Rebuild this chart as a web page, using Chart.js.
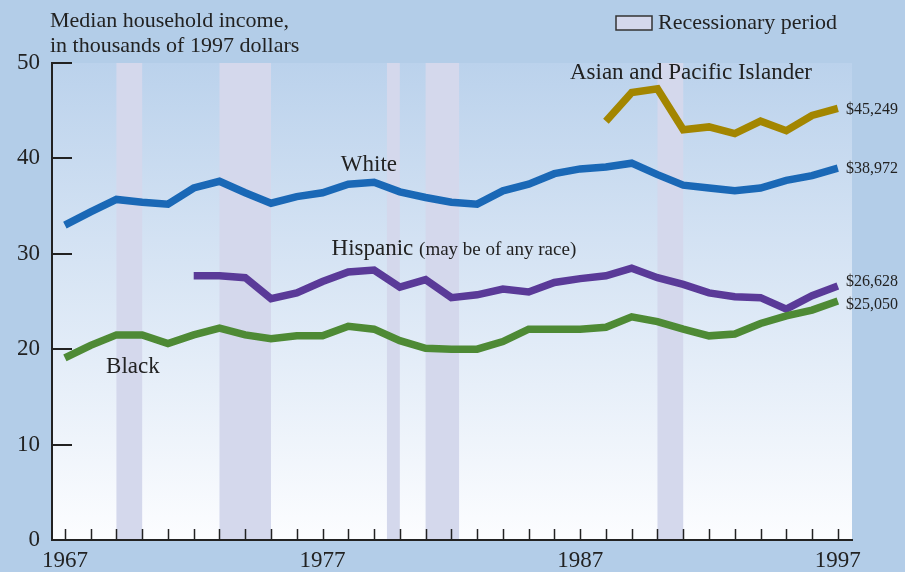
<!DOCTYPE html>
<html>
<head>
<meta charset="utf-8">
<script src="https://cdn.jsdelivr.net/npm/chart.js@4.4.1/dist/chart.umd.min.js"></script>
<style>
    html, body { margin: 0; padding: 0; background: #b3cde8; }
    #wrap { width: 905px; height: 572px; }
</style>
</head>
<body>
<div id="wrap"><canvas id="incomeChart" width="905" height="572"></canvas></div>
<script>
// Median household income, thousands of 1997 dollars
const years = [1967, 1968, 1969, 1970, 1971, 1972, 1973, 1974, 1975, 1976, 1977, 1978, 1979, 1980, 1981, 1982,
    1983, 1984, 1985, 1986, 1987, 1988, 1989, 1990, 1991, 1992, 1993, 1994, 1995, 1996, 1997];

const whiteIncome = [33.0, 34.4, 35.7, 35.4, 35.2, 36.9, 37.6, 36.4, 35.3, 36.0, 36.4, 37.3, 37.5, 36.5, 35.9, 35.4,
    35.2, 36.6, 37.3, 38.4, 38.9, 39.1, 39.5, 38.3, 37.2, 36.9, 36.6, 36.9, 37.7, 38.2, 38.972];
const blackIncome = [19.1, 20.4, 21.5, 21.5, 20.6, 21.5, 22.2, 21.5, 21.1, 21.4, 21.4, 22.4, 22.1, 20.9, 20.1, 20.0,
    20.0, 20.8, 22.1, 22.1, 22.1, 22.3, 23.4, 22.9, 22.1, 21.4, 21.6, 22.7, 23.5, 24.1, 25.050];
// Hispanic starts in 1972, Asian and Pacific Islander in 1988
const hispanicYears = years.slice(5);
const hispanicIncome = [27.7, 27.7, 27.5, 25.3, 25.9, 27.1, 28.1, 28.3, 26.5, 27.3, 25.4,
    25.7, 26.3, 26.0, 27.0, 27.4, 27.7, 28.5, 27.5, 26.8, 25.9, 25.5, 25.4, 24.2, 25.6, 26.628];
const asianYears = years.slice(21);
const asianIncome = [43.9, 46.9, 47.3, 43.0, 43.3, 42.6, 43.9, 42.9, 44.5, 45.249];

const endLabels = ['$38,972', '$25,050', '$26,628', '$45,249'];
const recessions = [[1969, 1970], [1973, 1975], [1979.5, 1980], [1981, 1982.3], [1990, 1991]];
const yTicks = [0, 10, 20, 30, 40, 50];
const xLabelYears = [1967, 1977, 1987, 1997];

const SERIF = '"Liberation Serif", "DejaVu Serif", serif';
const INK = '#222222';

function pairs(xs, ys) {
    return ys.map((v, i) => ({ x: xs[i], y: v }));
}

// background, plot gradient and recession bands
const backdrop = {
    id: 'backdrop',
    beforeDraw(chart) {
        const { ctx, chartArea: a, scales: { x } } = chart;
        ctx.save();
        ctx.fillStyle = '#b3cde8';
        ctx.fillRect(0, 0, chart.width, chart.height);
        const g = ctx.createLinearGradient(0, a.top, 0, a.bottom);
        g.addColorStop(0, '#bbd2ec');
        g.addColorStop(1, '#fcfdff');
        ctx.fillStyle = g;
        ctx.fillRect(a.left, a.top, a.right - a.left, a.bottom - a.top);
        ctx.fillStyle = '#d4d8ec';
        recessions.forEach(r => {
            const x0 = x.getPixelForValue(r[0]);
            const x1 = x.getPixelForValue(r[1]);
            ctx.fillRect(x0, a.top, x1 - x0, a.bottom - a.top);
        });
        ctx.restore();
    }
};

// inward tick marks, series names and text
const decorations = {
    id: 'decorations',
    afterDatasetsDraw(chart) {
        const { ctx, chartArea: a, scales: { x, y } } = chart;
        ctx.save();
        ctx.strokeStyle = INK;
        ctx.lineWidth = 1.5;
        years.forEach(yr => {
            const px = Math.round(x.getPixelForValue(yr)) + 0.5;
            ctx.beginPath();
            ctx.moveTo(px, a.bottom);
            ctx.lineTo(px, a.bottom - 11);
            ctx.stroke();
        });
        ctx.lineWidth = 2;
        yTicks.forEach(v => {
            const py = Math.round(y.getPixelForValue(v));
            ctx.beginPath();
            ctx.moveTo(a.left, py);
            ctx.lineTo(a.left + 20, py);
            ctx.stroke();
        });

        ctx.fillStyle = INK;
        ctx.textBaseline = 'middle';

        // series names
        ctx.font = '23px ' + SERIF;
        ctx.textAlign = 'center';
        ctx.fillText('White', x.getPixelForValue(1978.8), y.getPixelForValue(39.3));
        ctx.fillText('Asian and Pacific Islander', x.getPixelForValue(1991.3), y.getPixelForValue(49.0));
        ctx.textAlign = 'left';
        ctx.fillText('Black', x.getPixelForValue(1968.6), y.getPixelForValue(18.1));
        const hx = x.getPixelForValue(1977.35);
        const hy = y.getPixelForValue(30.5);
        ctx.fillText('Hispanic', hx, hy);
        const hw = ctx.measureText('Hispanic ').width;
        ctx.font = '19px ' + SERIF;
        ctx.fillText('(may be of any race)', hx + hw, hy + 1);

        // values at the end of each line
        ctx.font = '16px ' + SERIF;
        const lastX = a.right - 6;
        const offsets = [1, 4, -4, 1];
        chart.data.datasets.forEach((ds, i) => {
            const last = ds.data[ds.data.length - 1].y;
            ctx.fillText(endLabels[i], lastX, y.getPixelForValue(last) + offsets[i]);
        });

        // title
        ctx.font = '22px ' + SERIF;
        ctx.fillText('Median household income,', 50, 21);
        ctx.fillText('in thousands of 1997 dollars', 50, 46);

        // legend
        ctx.fillStyle = '#d4d8ec';
        ctx.fillRect(616, 16, 36, 14);
        ctx.lineWidth = 1.5;
        ctx.strokeStyle = '#333333';
        ctx.strokeRect(616, 16, 36, 14);
        ctx.fillStyle = INK;
        ctx.font = '22px ' + SERIF;
        ctx.fillText('Recessionary period', 658, 23);
        ctx.restore();
    }
};

document.addEventListener('DOMContentLoaded', function() {
    const ctx = document.getElementById('incomeChart').getContext('2d');
    const line = { borderWidth: 7.5, pointRadius: 0, tension: 0, fill: false, borderJoinStyle: 'miter' };

    new Chart(ctx, {
        type: 'line',
        data: {
            datasets: [
                Object.assign({ label: 'White', data: pairs(years, whiteIncome), borderColor: '#1a68b6' }, line),
                Object.assign({ label: 'Black', data: pairs(years, blackIncome), borderColor: '#4e8a35' }, line),
                Object.assign({ label: 'Hispanic', data: pairs(hispanicYears, hispanicIncome), borderColor: '#5a3a98' }, line),
                Object.assign({ label: 'Asian and Pacific Islander', data: pairs(asianYears, asianIncome), borderColor: '#a38600' }, line)
            ]
        },
        options: {
            responsive: false,
            animation: false,
            layout: { padding: { left: 0, top: 63, right: 53, bottom: 0 } },
            plugins: {
                legend: { display: false },
                tooltip: { enabled: false }
            },
            scales: {
                x: {
                    type: 'linear',
                    min: 1966.5,
                    max: 1997.55,
                    afterFit: s => { s.height = 32; },
                    afterBuildTicks: s => { s.ticks = xLabelYears.map(v => ({ value: v })); },
                    grid: { display: false, drawTicks: false },
                    border: { display: true, color: INK, width: 2 },
                    ticks: {
                        color: INK,
                        padding: 7,
                        maxRotation: 0,
                        autoSkip: false,
                        font: { family: SERIF, size: 23 },
                        callback: v => String(v)
                    }
                },
                y: {
                    min: 0,
                    max: 50,
                    afterFit: s => { s.width = 52; },
                    grid: { display: false, drawTicks: false },
                    border: { display: true, color: INK, width: 2 },
                    ticks: {
                        stepSize: 10,
                        color: INK,
                        padding: 12,
                        font: { family: SERIF, size: 23 }
                    }
                }
            }
        },
        plugins: [backdrop, decorations]
    });
});
</script>
</body>
</html>
